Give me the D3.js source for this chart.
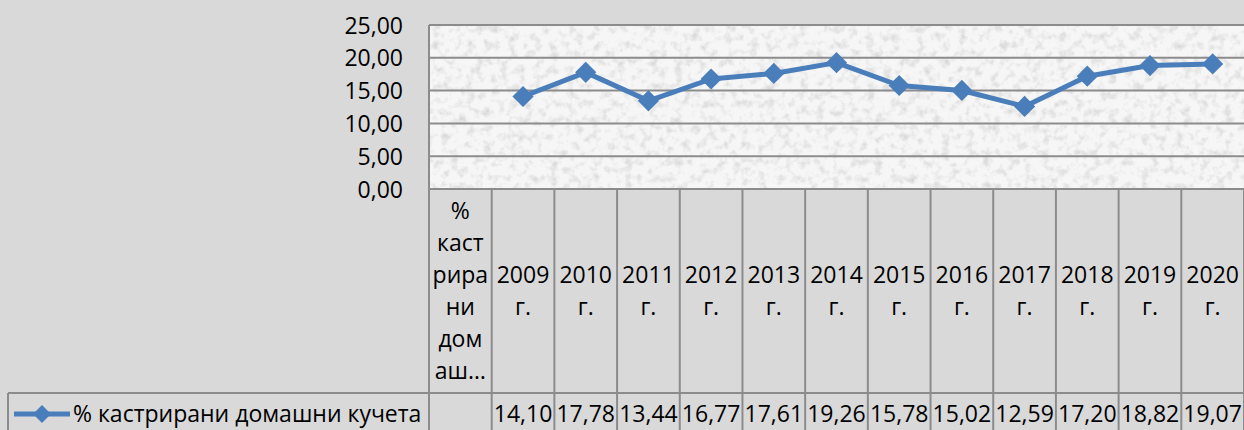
<!DOCTYPE html>
<html lang="bg">
<head>
<meta charset="UTF-8">
<title>% кастрирани домашни кучета</title>
<style>
  html, body { margin: 0; padding: 0; background: #d9d9d9; }
  svg { display: block; }
  text { font-family: "Open Sans", "Noto Sans", sans-serif; font-size: 23px; fill: #000; }
  .grid line { stroke: #8c8c8c; stroke-width: 2; }
  .cell { stroke: #8c8c8c; stroke-width: 2; }
</style>
</head>
<body>
<script src="https://d3js.org/d3.v7.min.js"></script>
<script>
const width = 1244, height = 430;

// data
const seriesName = "% кастрирани домашни кучета";
const categories = [seriesName, "2009 г.", "2010 г.", "2011 г.", "2012 г.", "2013 г.", "2014 г.",
  "2015 г.", "2016 г.", "2017 г.", "2018 г.", "2019 г.", "2020 г."];
const firstCatLines = ["%", "каст", "рира", "ни", "дом", "аш…"];
const values = [null, 14.10, 17.78, 13.44, 16.77, 17.61, 19.26, 15.78, 15.02, 12.59, 17.20, 18.82, 19.07];
const yTicks = [0, 5, 10, 15, 20, 25];

const plotLeft = 429, plotRight = 1244, plotTop = 25, plotBottom = 189;
const catRowBottom = 393, tableLeft = 8;
const lineH = 32;

const bg = d3.formatLocale({decimal: ",", thousands: " ", grouping: [3], currency: ["", ""]});
const fmt = bg.format(".2f");

const svg = d3.select("body").append("svg")
  .attr("width", width).attr("height", height);

// speckled texture for plot area
const defs = svg.append("defs");
const f = defs.append("filter").attr("id", "tex")
  .attr("x", 0).attr("y", 0).attr("width", 1).attr("height", 1);
f.append("feTurbulence").attr("type", "fractalNoise").attr("baseFrequency", 0.12)
  .attr("numOctaves", 3).attr("seed", 7).attr("result", "n");
f.append("feColorMatrix").attr("in", "n").attr("type", "matrix")
  .attr("values", "0 0 0 0 0.6  0 0 0 0 0.6  0 0 0 0 0.6  0 0 0 -1.6 0.85")
  .attr("result", "spots");
f.append("feComposite").attr("in", "spots").attr("in2", "SourceGraphic").attr("operator", "in");

const x = d3.scaleBand().domain(categories).range([plotLeft, plotRight]);
const y = d3.scaleLinear().domain([0, 25]).range([plotBottom, plotTop]);

svg.append("rect").attr("x", plotLeft).attr("y", plotTop)
  .attr("width", plotRight - plotLeft).attr("height", plotBottom - plotTop)
  .attr("fill", "#f6f6f6");
svg.append("rect").attr("x", plotLeft).attr("y", plotTop)
  .attr("width", plotRight - plotLeft).attr("height", plotBottom - plotTop)
  .attr("fill", "#f6f6f6").attr("filter", "url(#tex)");

// gridlines
svg.append("g").attr("class", "grid")
  .selectAll("line").data(yTicks).join("line")
  .attr("x1", plotLeft).attr("x2", plotRight)
  .attr("y1", d => y(d)).attr("y2", d => y(d));
svg.append("line").attr("class", "cell")
  .attr("x1", plotLeft).attr("x2", plotLeft).attr("y1", plotTop).attr("y2", plotBottom);

// y axis labels
const yAxis = d3.axisLeft(y).tickValues(yTicks).tickFormat(fmt).tickSize(0).tickPadding(0);
const ya = svg.append("g").attr("transform", `translate(403,0)`).call(yAxis);
ya.select(".domain").remove();
ya.selectAll("text").attr("font-size", null).attr("font-family", null).attr("fill", "#000").attr("dy", "0.35em");

// table: vertical cell borders
const edges = categories.map(c => x(c)).concat([plotRight]);
svg.append("g").selectAll("line").data(edges).join("line").attr("class", "cell")
  .attr("x1", d => d).attr("x2", d => d)
  .attr("y1", plotBottom).attr("y2", height);
svg.append("line").attr("class", "cell")
  .attr("x1", tableLeft).attr("x2", plotRight).attr("y1", catRowBottom).attr("y2", catRowBottom);
svg.append("line").attr("class", "cell")
  .attr("x1", tableLeft).attr("x2", tableLeft).attr("y1", catRowBottom).attr("y2", height);

// category labels
const catMid = (plotBottom + catRowBottom) / 2;
categories.forEach((c, i) => {
  const lines = i === 0 ? firstCatLines : c.split(" ");
  const t = svg.append("text").attr("text-anchor", "middle")
    .attr("x", x(c) + x.bandwidth() / 2);
  lines.forEach((l, j) => {
    t.append("tspan").attr("x", x(c) + x.bandwidth() / 2)
      .attr("y", catMid + (j - (lines.length - 1) / 2) * lineH)
      .attr("dy", "0.35em").text(l);
  });
});

// value row
const rowMid = 414;
svg.append("g").selectAll("text").data(categories.filter((c, i) => values[i] != null)).join("text")
  .attr("text-anchor", "middle")
  .attr("x", c => x(c) + x.bandwidth() / 2)
  .attr("y", rowMid).attr("dy", "0.35em")
  .text(c => fmt(values[categories.indexOf(c)]));

// series line
const pts = categories.map((c, i) => ({c, v: values[i]})).filter(d => d.v != null);
const line = d3.line().x(d => x(d.c) + x.bandwidth() / 2).y(d => y(d.v));
const blue = "#4a7ebb";
svg.append("path").datum(pts).attr("d", line)
  .attr("fill", "none").attr("stroke", blue).attr("stroke-width", 5).attr("stroke-linejoin", "round");
const diamond = d3.symbol().type(d3.symbolSquare).size(225);
svg.append("g").selectAll("path").data(pts).join("path")
  .attr("d", diamond)
  .attr("transform", d => `translate(${x(d.c) + x.bandwidth() / 2},${y(d.v)}) rotate(45)`)
  .attr("fill", blue);

// legend key in table
svg.append("line").attr("x1", 14).attr("x2", 70).attr("y1", rowMid).attr("y2", rowMid)
  .attr("stroke", blue).attr("stroke-width", 5);
svg.append("path").attr("d", d3.symbol().type(d3.symbolSquare).size(160))
  .attr("transform", `translate(42,${rowMid}) rotate(45)`).attr("fill", blue);
svg.append("text").attr("x", 73).attr("y", rowMid).attr("dy", "0.35em").text(seriesName);
</script>
</body>
</html>
